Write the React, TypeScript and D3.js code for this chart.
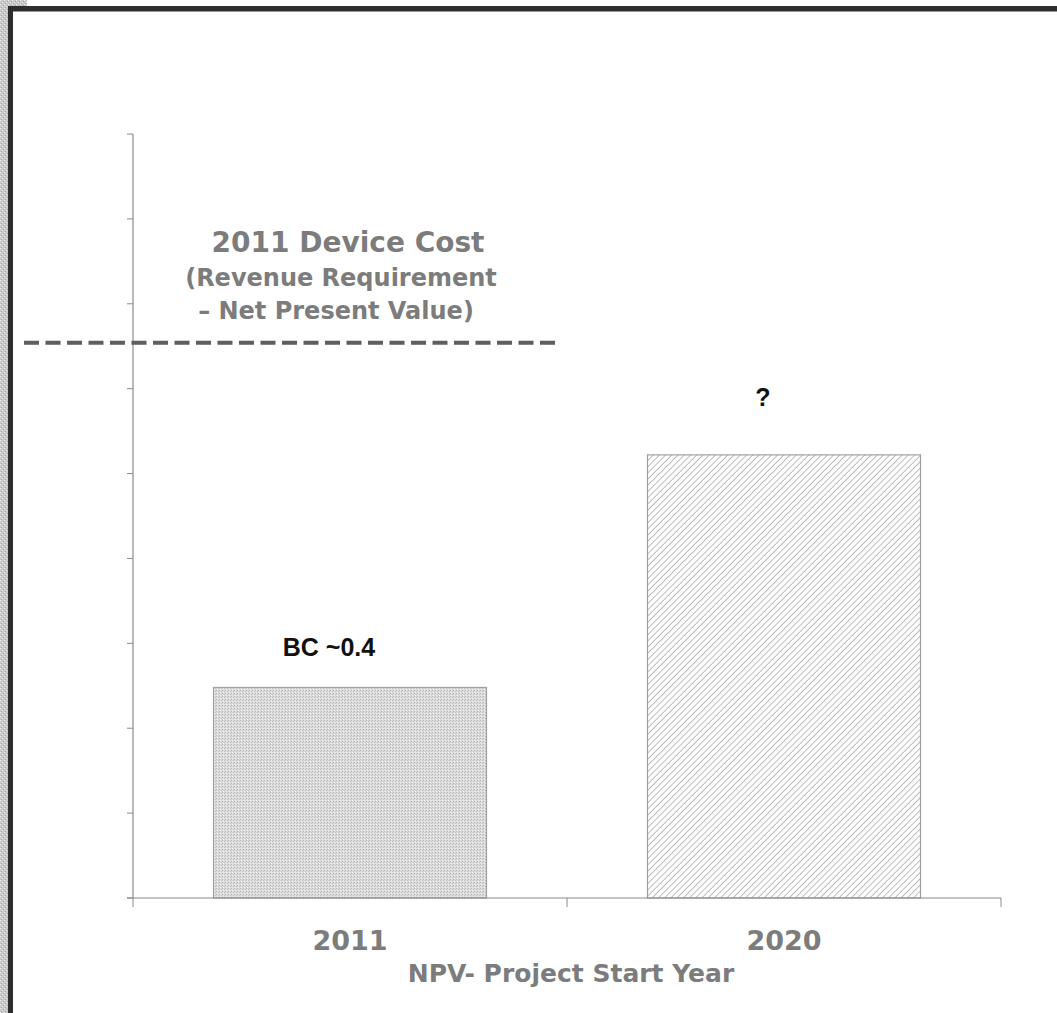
import React from "react";
import * as d3 from "d3";

// ---- data ----
const categories: string[] = ["2011", "2020"];
const barValues: number[] = [2.48, 5.22];
const barLabels: string[] = ["BC ~0.4", "?"];
const barStyles: string[] = ["dotted", "hatched"];
const yTicks: number[] = [0, 1, 2, 3, 4, 5, 6, 7, 8, 9];
const referenceValue: number = 6.54;
const referenceLines: string[] = [
  "2011 Device Cost",
  "(Revenue Requirement",
  "\u2013 Net Present Value)",
];
const xAxisTitle = "NPV- Project Start Year";

const W = 1057;
const H = 1013;

export default function App() {
  const plotLeft = 133;
  const plotRight = 1001;
  const plotBottom = 898;
  const plotTop = 134;

  const x = d3
    .scaleBand<string>()
    .domain(categories)
    .range([plotLeft, plotRight])
    .paddingInner(0.371)
    .paddingOuter(0.1855);
  const y = d3.scaleLinear().domain([0, 9]).range([plotBottom, plotTop]);

  const step = x.step();
  const bw = x.bandwidth();
  const boundaries = [plotLeft, ...categories.map((c) => (x(c) as number) + bw / 2 + step / 2)];

  const grey = "#8a8a8a";
  const textGrey = "#7c7c7c";
  const verdana = "Verdana, 'DejaVu Sans', sans-serif";
  const arial = "Arial, 'Liberation Sans', sans-serif";

  const refY = y(referenceValue);

  return (
    <svg
      width={W}
      height={H}
      style={{ position: "absolute", left: 0, top: 0, background: "#fff" }}
    >
      <defs>
        <pattern id="hatch" width="4.4" height="4.4" patternUnits="userSpaceOnUse" patternTransform="rotate(45)">
          <rect width="4.4" height="4.4" fill="#ffffff" />
          <line x1="0" y1="0" x2="0" y2="4.4" stroke="#9a9a9a" strokeWidth="1.3" />
        </pattern>
        <pattern id="dots" width="3" height="3" patternUnits="userSpaceOnUse">
          <rect width="3" height="3" fill="#dcdcdc" />
          <rect x="0" y="0" width="1" height="1" fill="#b4b4b4" />
          <rect x="2" y="1" width="1" height="1" fill="#c2c2c2" />
          <rect x="1" y="2" width="1" height="1" fill="#f0f0f0" />
        </pattern>
        <pattern id="noise" width="4" height="4" patternUnits="userSpaceOnUse">
          <rect width="4" height="4" fill="#c8c8c8" />
          <rect x="0" y="0" width="1" height="1" fill="#eeeeee" />
          <rect x="2" y="2" width="1" height="1" fill="#eeeeee" />
          <rect x="1" y="3" width="1" height="1" fill="#a8a8a8" />
          <rect x="3" y="1" width="1" height="1" fill="#a8a8a8" />
        </pattern>
      </defs>

      {/* frame */}
      <rect x={0} y={0} width={8} height={H} fill="url(#noise)" />
      <rect x={0} y={0} width={27} height={6} fill="url(#noise)" />
      <rect x={8} y={6} width={W - 8} height={5.5} fill="#2e2e2e" />
      <rect x={8} y={6} width={5} height={H - 6} fill="#2e2e2e" />

      {/* y axis */}
      <line x1={plotLeft} x2={plotLeft} y1={plotTop} y2={plotBottom} stroke={grey} strokeWidth={1.2} />
      {yTicks.map((t) => (
        <line key={t} x1={plotLeft - 6} x2={plotLeft} y1={y(t)} y2={y(t)} stroke={grey} strokeWidth={1} />
      ))}

      {/* bars */}
      {categories.map((c, i) => (
        <rect
          key={c}
          x={x(c)}
          y={y(barValues[i])}
          width={bw}
          height={plotBottom - y(barValues[i])}
          fill={barStyles[i] === "hatched" ? "url(#hatch)" : "url(#dots)"}
          stroke="#a0a0a0"
          strokeWidth={1.2}
        />
      ))}

      {/* x axis */}
      <line x1={plotLeft - 6} x2={plotRight} y1={plotBottom} y2={plotBottom} stroke={grey} strokeWidth={1.2} />
      {boundaries.map((b, i) => (
        <line key={i} x1={b} x2={b} y1={plotBottom} y2={plotBottom + 9} stroke={grey} strokeWidth={1} />
      ))}
      {categories.map((c) => (
        <text
          key={c}
          x={(x(c) as number) + bw / 2}
          y={950}
          textAnchor="middle"
          fontFamily={verdana}
          fontWeight="bold"
          fontSize={27}
          fill={textGrey}
        >
          {c}
        </text>
      ))}
      <text x={571} y={982} textAnchor="middle" fontFamily={verdana} fontWeight="bold" fontSize={25} fill={textGrey}>
        {xAxisTitle}
      </text>

      {/* bar labels */}
      {categories.map((c, i) => (
        <text
          key={c}
          x={(x(c) as number) + bw / 2 - 21}
          y={y(barValues[i]) - (i === 0 ? 31 : 49)}
          textAnchor="middle"
          fontFamily={arial}
          fontWeight="bold"
          fontSize={25}
          fill="#111"
        >
          {barLabels[i]}
        </text>
      ))}

      {/* reference line */}
      <line
        x1={24}
        x2={555}
        y1={refY}
        y2={refY}
        stroke="#5e5e5e"
        strokeWidth={4}
        strokeDasharray="15 6.5"
      />
      {referenceLines.map((l, i) => (
        <text
          key={i}
          x={i === 0 ? 348 : i === 1 ? 341 : 336}
          y={[252, 286, 319][i]}
          textAnchor="middle"
          fontFamily={verdana}
          fontWeight="bold"
          fontSize={i === 0 ? 28 : 24}
          fill={textGrey}
        >
          {l}
        </text>
      ))}
    </svg>
  );
}
